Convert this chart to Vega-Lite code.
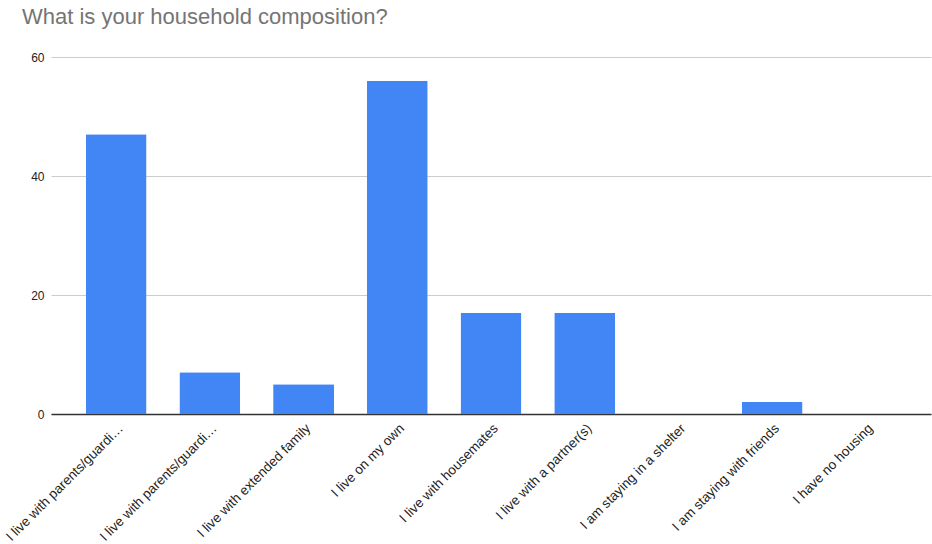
{
  "$schema": "https://vega.github.io/schema/vega-lite/v6.json",
  "autosize": {"type": "none"},
  "padding": {"left": 51, "top": 57, "right": 1, "bottom": 130},
  "width": 880,
  "height": 357,
  "background": "white",
  "title": {
    "text": "What is your household composition?",
    "anchor": "start",
    "frame": "group",
    "dx": -29,
    "offset": 22,
    "font": "Liberation Sans",
    "fontSize": 22,
    "fontWeight": "normal",
    "color": "#757575"
  },
  "data": {
    "values": [
      {"category": "I live with parents/guardians (both)", "count": 47},
      {"category": "I live with parents/guardians (one)", "count": 7},
      {"category": "I live with extended family", "count": 5},
      {"category": "I live on my own", "count": 56},
      {"category": "I live with housemates", "count": 17},
      {"category": "I live with a partner(s)", "count": 17},
      {"category": "I am staying in a shelter", "count": 0},
      {"category": "I am staying with friends", "count": 2},
      {"category": "I have no housing", "count": 0}
    ]
  },
  "mark": {"type": "bar", "color": "#4285F4", "cornerRadiusTopLeft": 1, "cornerRadiusTopRight": 1},
  "encoding": {
    "x": {
      "field": "category",
      "type": "nominal",
      "sort": null,
      "title": null,
      "scale": {"paddingInner": 0.35, "paddingOuter": 0.37},
      "axis": {
        "labelAngle": -45,
        "labelFont": "Liberation Sans",
        "labelFontSize": 13.5,
        "labelColor": "#222222",
        "labelLimit": 163,
        "labelPadding": 7,
        "ticks": false,
        "domainColor": "#333333",
        "domainWidth": 1.5
      }
    },
    "y": {
      "field": "count",
      "type": "quantitative",
      "title": null,
      "scale": {"domain": [0, 60]},
      "axis": {
        "values": [0, 20, 40, 60],
        "labelFont": "Liberation Sans",
        "labelFontSize": 12,
        "labelColor": "#222222",
        "labelPadding": 7,
        "ticks": false,
        "domain": false,
        "gridColor": "#cccccc"
      }
    }
  },
  "config": {"view": {"stroke": null}}
}
